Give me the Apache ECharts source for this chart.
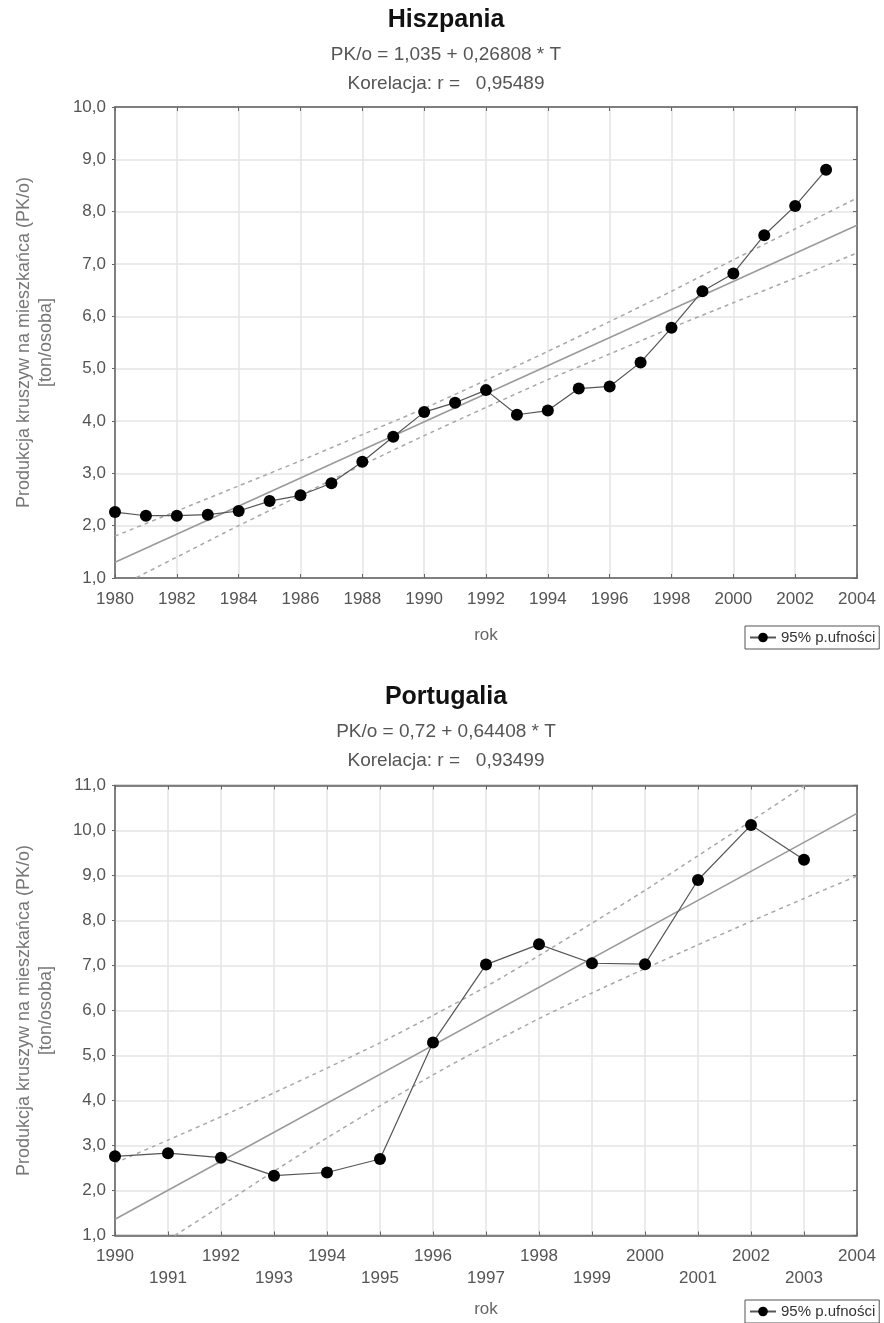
<!DOCTYPE html>
<html>
<head>
<meta charset="utf-8">
<script src="https://cdn.jsdelivr.net/npm/echarts@6/dist/echarts.min.js"></script>
<style>
html,body{margin:0;padding:0;background:#fff;}
#c{width:884px;height:1323px;}
</style>
</head>
<body>
<div id="c"></div>
<script>
// ---- Hiszpania ----
const esYears = [1980,1981,1982,1983,1984,1985,1986,1987,1988,1989,1990,1991,1992,1993,1994,1995,1996,1997,1998,1999,2000,2001,2002,2003];
const esValues = [2.26,2.19,2.19,2.21,2.28,2.47,2.58,2.81,3.22,3.70,4.17,4.35,4.59,4.12,4.20,4.62,4.66,5.12,5.78,6.48,6.82,7.55,8.11,8.80];
const esFitYears = [1980, 2004];
const esFitValues = [1.30, 7.74];
const esBandYears = [1980,1982,1984,1986,1988,1990,1992,1994,1996,1998,2000,2002,2004];
const esBandUpper = [1.80,2.28,2.76,3.24,3.74,4.24,4.78,5.33,5.90,6.48,7.08,7.67,8.26];
const esBandLower = [0.80,1.40,2.00,2.58,3.16,3.72,4.26,4.79,5.28,5.78,6.26,6.73,7.21];
const esTitle = 'Hiszpania';
const esEquation = 'PK/o = 1,035 + 0,26808 * T';
const esCorrelation = 'Korelacja: r =   0,95489';

// ---- Portugalia ----
const ptYears = [1990,1991,1992,1993,1994,1995,1996,1997,1998,1999,2000,2001,2002,2003];
const ptValues = [2.76,2.83,2.73,2.33,2.40,2.70,5.29,7.02,7.47,7.05,7.03,8.90,10.12,9.35];
const ptFitYears = [1990, 2004];
const ptFitValues = [1.36, 10.38];
const ptBandYears = [1990,1991,1992,1993,1994,1995,1996,1997,1998,1999,2000,2001,2002,2003,2004];
const ptBandUpper = [2.61,3.12,3.64,4.17,4.72,5.28,5.89,6.53,7.22,7.94,8.67,9.44,10.21,10.99,11.77];
const ptBandLower = [0.11,0.90,1.66,2.43,3.17,3.88,4.57,5.21,5.82,6.39,6.93,7.46,7.98,8.49,8.99];
const ptTitle = 'Portugalia';
const ptEquation = 'PK/o = 0,72 + 0,64408 * T';
const ptCorrelation = 'Korelacja: r =   0,93499';

const yAxisName = 'Produkcja kruszyw na mieszkańca (PK/o)\n[ton/osoba]';
const xAxisName = 'rok';
const legendName = '95% p.ufności';

const FONT = '"Liberation Sans", Arial, sans-serif';
const zip = (xs, ys) => xs.map((x, i) => [x, ys[i]]);
const fmtY = v => v.toFixed(1).replace('.', ',');

function titles(t, eq, cor, top) {
  return [
    {text: t, left: 446, textAlign: 'center', top: top, padding: 0,
     textStyle: {fontFamily: FONT, fontSize: 25, fontWeight: 'bold', color: '#111', lineHeight: 25}},
    {text: eq, left: 446, textAlign: 'center', top: top + 37, padding: 0,
     textStyle: {fontFamily: FONT, fontSize: 19, fontWeight: 'normal', color: '#555', lineHeight: 19}},
    {text: cor, left: 446, textAlign: 'center', top: top + 66, padding: 0,
     textStyle: {fontFamily: FONT, fontSize: 19, fontWeight: 'normal', color: '#555', lineHeight: 19}}
  ];
}

function xAxes(gi, min, max, interval, stagger, nameGap) {
  return [
    {type: 'value', gridIndex: gi, position: 'bottom', min: min, max: max, interval: interval,
     name: xAxisName, nameLocation: 'middle', nameGap: nameGap,
     nameTextStyle: {fontFamily: FONT, fontSize: 17, color: '#666'},
     axisLine: {show: true, lineStyle: {color: '#666', width: 1.5}},
     axisTick: {show: true, inside: true, length: 4, lineStyle: {color: '#666'}},
     axisLabel: {fontFamily: FONT, fontSize: 17, color: '#555', margin: 10, lineHeight: 22,
       formatter: v => (stagger && v % 2 === 1) ? '\n' + v : String(v)},
     splitLine: {show: true, lineStyle: {color: '#e4e4e4', width: 1.5}}},
    {type: 'value', gridIndex: gi, position: 'top', min: min, max: max, interval: interval,
     axisLine: {show: true, lineStyle: {color: '#666', width: 1.5}},
     axisTick: {show: true, inside: true, length: 4, lineStyle: {color: '#666'}},
     axisLabel: {show: false}, splitLine: {show: false}}
  ];
}

function yAxes(gi, min, max) {
  return [
    {type: 'value', gridIndex: gi, position: 'left', min: min, max: max, interval: 1,
     name: yAxisName, nameLocation: 'middle', nameRotate: 90, nameGap: 58,
     nameTextStyle: {fontFamily: FONT, fontSize: 18, color: '#777', lineHeight: 22, align: 'center'},
     axisLine: {show: true, lineStyle: {color: '#666', width: 1.5}},
     axisTick: {show: true, inside: false, length: 3, lineStyle: {color: '#666'}},
     axisLabel: {fontFamily: FONT, fontSize: 17, color: '#555', margin: 9, formatter: fmtY},
     splitLine: {show: true, lineStyle: {color: '#e4e4e4', width: 1.5}}},
    {type: 'value', gridIndex: gi, position: 'right', min: min, max: max, interval: 1,
     axisLine: {show: true, lineStyle: {color: '#666', width: 1.5}},
     axisTick: {show: true, inside: true, length: 4, lineStyle: {color: '#666'}},
     axisLabel: {show: false}, splitLine: {show: false}}
  ];
}

function seriesFor(xi, yi, yrs, vals, fy, fv, by, bu, bl) {
  const band = {type: 'line', xAxisIndex: xi, yAxisIndex: yi, symbol: 'none', silent: true, clip: true,
    smooth: 0.2, lineStyle: {color: '#a8a8a8', width: 1.5, type: [4, 4]}, z: 3};
  return [
    {name: 'fit', type: 'line', xAxisIndex: xi, yAxisIndex: yi, data: zip(fy, fv), symbol: 'none',
     silent: true, clip: true, lineStyle: {color: '#9a9a9a', width: 1.6}, z: 3},
    Object.assign({name: 'upper', data: zip(by, bu)}, band),
    Object.assign({name: 'lower', data: zip(by, bl)}, band),
    {name: legendName, type: 'line', xAxisIndex: xi, yAxisIndex: yi, data: zip(yrs, vals),
     symbol: 'circle', symbolSize: 12, clip: false,
     itemStyle: {color: '#000'}, lineStyle: {color: '#555', width: 1.2}, z: 5}
  ];
}

function legendAt(top) {
  return {data: [legendName], left: 745, top: top, orient: 'horizontal', selectedMode: false,
    borderColor: '#555', borderWidth: 1, padding: [4, 4], itemWidth: 26, itemHeight: 12, itemGap: 2,
    textStyle: {fontFamily: FONT, fontSize: 15, color: '#333'}};
}

const chart = echarts.init(document.getElementById('c'), null, {renderer: 'canvas'});
chart.setOption({
  animation: false,
  backgroundColor: '#fff',
  title: titles(esTitle, esEquation, esCorrelation, 8).concat(titles(ptTitle, ptEquation, ptCorrelation, 685)),
  legend: [legendAt(626), legendAt(1300)],
  grid: [
    {left: 115, right: 27, top: 107, height: 471, show: true, borderColor: '#666', borderWidth: 1.5, backgroundColor: '#fff'},
    {left: 115, right: 27, top: 785.5, height: 450, show: true, borderColor: '#666', borderWidth: 1.5, backgroundColor: '#fff'}
  ],
  xAxis: xAxes(0, 1980, 2004, 2, false, 49).concat(xAxes(1, 1990, 2004, 1, true, 65)),
  yAxis: yAxes(0, 1, 10).concat(yAxes(1, 1, 11)),
  series: seriesFor(0, 0, esYears, esValues, esFitYears, esFitValues, esBandYears, esBandUpper, esBandLower)
    .concat(seriesFor(2, 2, ptYears, ptValues, ptFitYears, ptFitValues, ptBandYears, ptBandUpper, ptBandLower))
});
</script>
</body>
</html>
